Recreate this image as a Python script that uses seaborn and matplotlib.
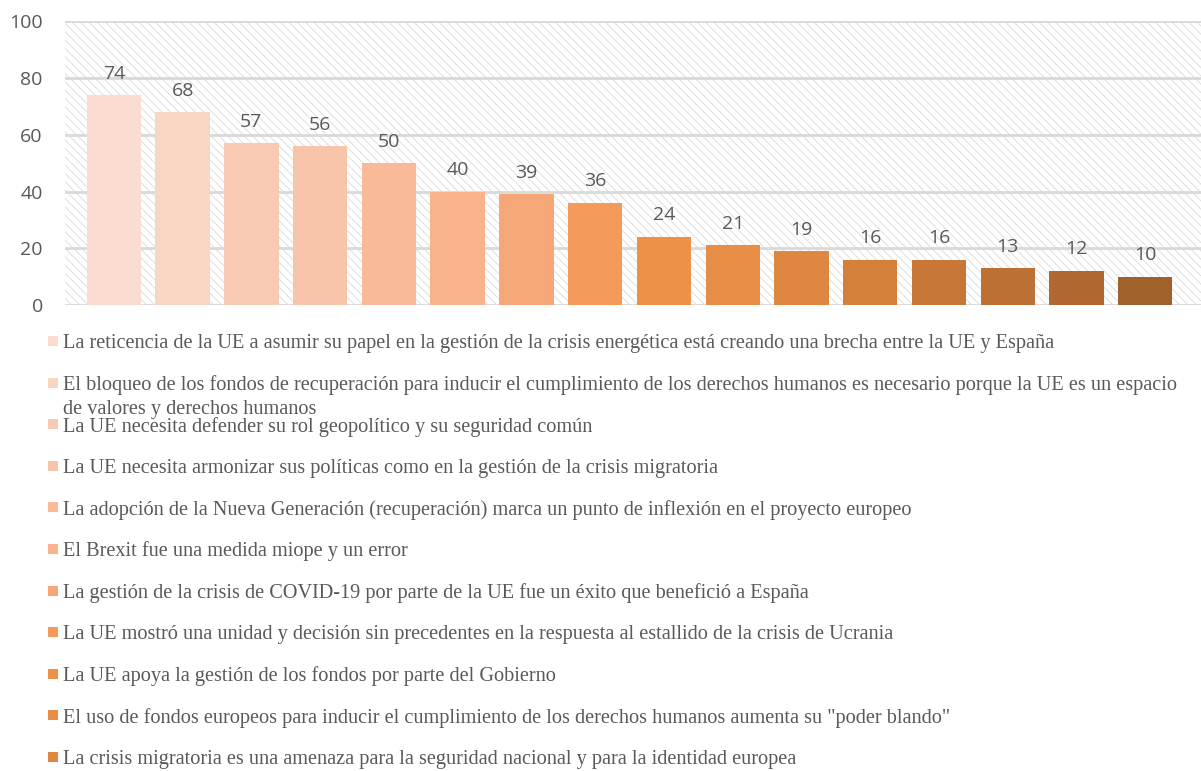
import numpy as np
import pandas as pd
import matplotlib.pyplot as plt
import seaborn as sns
from matplotlib.patches import Rectangle

# data
items = [f"P{i}" for i in range(1, 17)]
values = [74, 68, 57, 56, 50, 40, 39, 36, 24, 21, 19, 16, 16, 13, 12, 10]
colors = ['#FADDD0', '#F9D5C4', '#F8CAB4', '#F8C4AA', '#F8BA98', '#F8B28C',
          '#F6A778', '#F49B5C', '#ED9148', '#E88D45', '#DE8740', '#D4803B',
          '#C77838', '#BD7034', '#B06830', '#A0612B']
statements = [
    "La reticencia de la UE a asumir su papel en la gestión de la crisis energética está creando una brecha entre la UE y España",
    "El bloqueo de los fondos de recuperación para inducir el cumplimiento de los derechos humanos es necesario porque la UE es un espacio\nde valores y derechos humanos",
    "La UE necesita defender su rol geopolítico y su seguridad común",
    "La UE necesita armonizar sus políticas como en la gestión de la crisis migratoria",
    "La adopción de la Nueva Generación (recuperación) marca un punto de inflexión en el proyecto europeo",
    "El Brexit fue una medida miope y un error",
    "La gestión de la crisis de COVID-19 por parte de la UE fue un éxito que benefició a España",
    "La UE mostró una unidad y decisión sin precedentes en la respuesta al estallido de la crisis de Ucrania",
    "La UE apoya la gestión de los fondos por parte del Gobierno",
    "El uso de fondos europeos para inducir el cumplimiento de los derechos humanos aumenta su \"poder blando\"",
    "La crisis migratoria es una amenaza para la seguridad nacional y para la identidad europea",
]
title = "Respuestas en porcentaje (%)"
yticks = [0, 20, 40, 60, 80, 100]

W, H = 1201, 771
text_gray = '#595959'
grid_gray = '#D9D9D9'

sns.set_style("white")
plt.rcParams['hatch.linewidth'] = 0.6
plt.rcParams['hatch.color'] = '#DADADA'

fig = plt.figure(figsize=(W / 100, H / 100), dpi=100)
ax = fig.add_axes([65 / W, 1 - 305 / H, 1 - 65 / W, (305 - 21.5) / H])

df = pd.DataFrame({"item": items, "value": values})
sns.barplot(data=df, x="item", y="value", hue="item",
            palette=dict(zip(items, colors)), legend=False,
            width=0.79, saturation=1, linewidth=0, ax=ax, zorder=3)

# hatched plot background
ax.patch.set_facecolor('white')
ax.patch.set_hatch('\\\\\\\\')
ax.patch.set_edgecolor('#DADADA')
ax.patch.set_linewidth(0)

ax.set_ylim(0, 100)
ax.set_xlim(-0.71, 15.81)
ax.set_yticks(yticks)
ax.set_xticks([])
ax.set_xlabel("")
ax.set_ylabel("")
ax.grid(axis='y', color=grid_gray, linewidth=2, zorder=1)
ax.set_axisbelow(True)
for s in ax.spines.values():
    s.set_visible(False)
ax.tick_params(axis='y', length=0, pad=16, labelsize=14, labelcolor=text_gray)
for lab in ax.get_yticklabels():
    lab.set_fontfamily('Open Sans')

for i, v in enumerate(values):
    ax.annotate(str(v), (i, v), xytext=(0, 9), textcoords='offset points',
                ha='center', va='bottom', fontsize=14, color=text_gray,
                family='Open Sans')

# overlay in pixel coordinates for the title and the legend list
ov = fig.add_axes([0, 0, 1, 1])
ov.set_xlim(0, W)
ov.set_ylim(H, 0)
ov.axis('off')
ov.patch.set_alpha(0)

# title sits mostly above the visible area, as in the source image
ov.text(686, -5, title, ha='right', va='baseline', fontsize=15,
        family='Liberation Serif', color=text_gray)

for k, label in enumerate(statements):
    y = 341 + 41.6 * k
    ov.add_patch(Rectangle((48, y - 5), 10, 10, facecolor=colors[k], edgecolor='none'))
    for j, line in enumerate(label.split("\n")):
        ov.text(63, y + 24 * j, line, ha='left', va='center_baseline',
                fontsize=14.6, family='Liberation Serif', color=text_gray)

fig.savefig("out.png", dpi=100)
